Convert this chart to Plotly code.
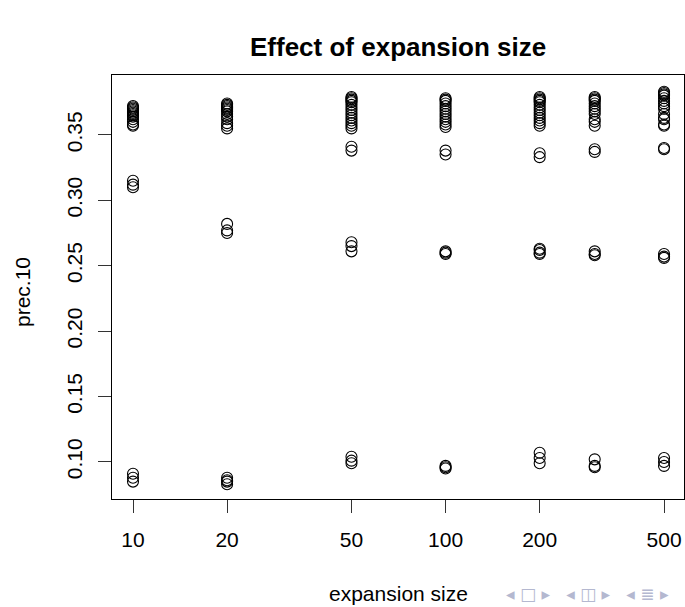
import plotly.graph_objects as go

# expansion sizes (x) and prec.10 values
sizes = [10, 20, 50, 100, 200, 300, 500]

prec_10 = [0.357, 0.358, 0.360, 0.362, 0.364, 0.365, 0.366, 0.367, 0.368, 0.369, 0.370, 0.371, 0.372,
           0.310, 0.312, 0.315,
           0.085, 0.088, 0.091]
prec_20 = [0.355, 0.357, 0.359, 0.362, 0.364, 0.366, 0.368, 0.369, 0.370, 0.371, 0.372, 0.373, 0.374,
           0.275, 0.277, 0.282,
           0.083, 0.085, 0.086, 0.088]
prec_50 = [0.355, 0.357, 0.359, 0.361, 0.363, 0.365, 0.367, 0.369, 0.371, 0.373, 0.375, 0.376, 0.377, 0.378, 0.379,
           0.338, 0.341,
           0.261, 0.265, 0.268,
           0.099, 0.101, 0.104]
prec_100 = [0.356, 0.358, 0.360, 0.362, 0.364, 0.366, 0.368, 0.370, 0.372, 0.374, 0.376, 0.377, 0.378,
            0.335, 0.338,
            0.259, 0.260, 0.261,
            0.095, 0.096, 0.097]
prec_200 = [0.357, 0.359, 0.361, 0.363, 0.365, 0.367, 0.369, 0.371, 0.373, 0.375, 0.376, 0.377, 0.378, 0.379,
            0.333, 0.336,
            0.259, 0.260, 0.262, 0.263,
            0.099, 0.103, 0.107]
prec_300 = [0.357, 0.360, 0.362, 0.366, 0.368, 0.370, 0.372, 0.374, 0.376, 0.377, 0.378, 0.379,
            0.337, 0.339,
            0.258, 0.259, 0.261,
            0.096, 0.097, 0.102]
prec_500 = [0.357, 0.358, 0.362, 0.363, 0.366, 0.370, 0.372, 0.374, 0.376, 0.378, 0.380, 0.381, 0.382, 0.383,
            0.339, 0.340,
            0.256, 0.257, 0.259,
            0.097, 0.100, 0.103]

columns = [prec_10, prec_20, prec_50, prec_100, prec_200, prec_300, prec_500]

x_ticks = [10, 20, 50, 100, 200, 500]
y_ticks = [0.10, 0.15, 0.20, 0.25, 0.30, 0.35]
y_tick_text = ["0.10", "0.15", "0.20", "0.25", "0.30", "0.35"]

xs, ys = [], []
for s, col in zip(sizes, columns):
    xs += [s] * len(col)
    ys += col

FONT = "Liberation Sans, Arial, Helvetica, sans-serif"

fig = go.Figure()
fig.add_trace(go.Scatter(
    x=xs, y=ys, mode="markers",
    marker=dict(symbol="circle-open", size=11, color="black", line=dict(width=1.1, color="black")),
    showlegend=False, hoverinfo="x+y",
))

W, H = 685, 607
L, R, T, B = 112, 1, 75, 108
PW, PH = W - L - R, H - T - B

fig.update_layout(
    width=W, height=H,
    margin=dict(l=L, r=R, t=T, b=B, pad=0),
    paper_bgcolor="white", plot_bgcolor="white",
    font=dict(family=FONT, size=21, color="black"),
    xaxis=dict(
        type="log", range=[0.9328, 2.7628],
        tickvals=x_ticks, ticktext=[str(v) for v in x_ticks],
        ticks="outside", ticklen=13, tickwidth=1, tickcolor="#333",
        showline=True, linecolor="black", linewidth=1, mirror=True,
        showgrid=False, zeroline=False,
        tickfont=dict(size=21, family=FONT),
        ticklabelstandoff=9,
    ),
    yaxis=dict(
        range=[0.0717, 0.3958],
        tickvals=y_ticks, ticktext=y_tick_text,
        ticks="outside", ticklen=13, tickwidth=1, tickcolor="#333",
        showline=True, linecolor="black", linewidth=1, mirror=True,
        showgrid=False, zeroline=False,
        tickangle=-90,
        tickfont=dict(size=21, family=FONT),
        ticklabelstandoff=8,
    ),
    annotations=[
        dict(text="<b>Effect of expansion size</b>", xref="paper", yref="paper",
             x=0.5, y=1 + (T - 47) / PH, xanchor="center", yanchor="middle",
             showarrow=False, font=dict(size=26, family=FONT)),
        dict(text="expansion size", xref="paper", yref="paper",
             x=0.5, y=-(593 - (H - B)) / PH, xanchor="center", yanchor="middle",
             showarrow=False, font=dict(size=21, family=FONT)),
        dict(text="prec.10", xref="paper", yref="paper",
             x=-(L - 22) / PW, y=0.5 - 5 / PH, xanchor="center", yanchor="middle",
             textangle=-90, showarrow=False, font=dict(size=21, family=FONT)),
        dict(text="◂ □ ▸   ◂ ◫ ▸   ◂ ≣ ▸", xref="paper", yref="paper",
             x=(671 - L) / PW, y=-(594 - (H - B)) / PH, xanchor="right", yanchor="middle",
             showarrow=False, font=dict(size=17, family="DejaVu Sans", color="#b4b8d0")),
    ],
)

fig.write_html("out.html")
